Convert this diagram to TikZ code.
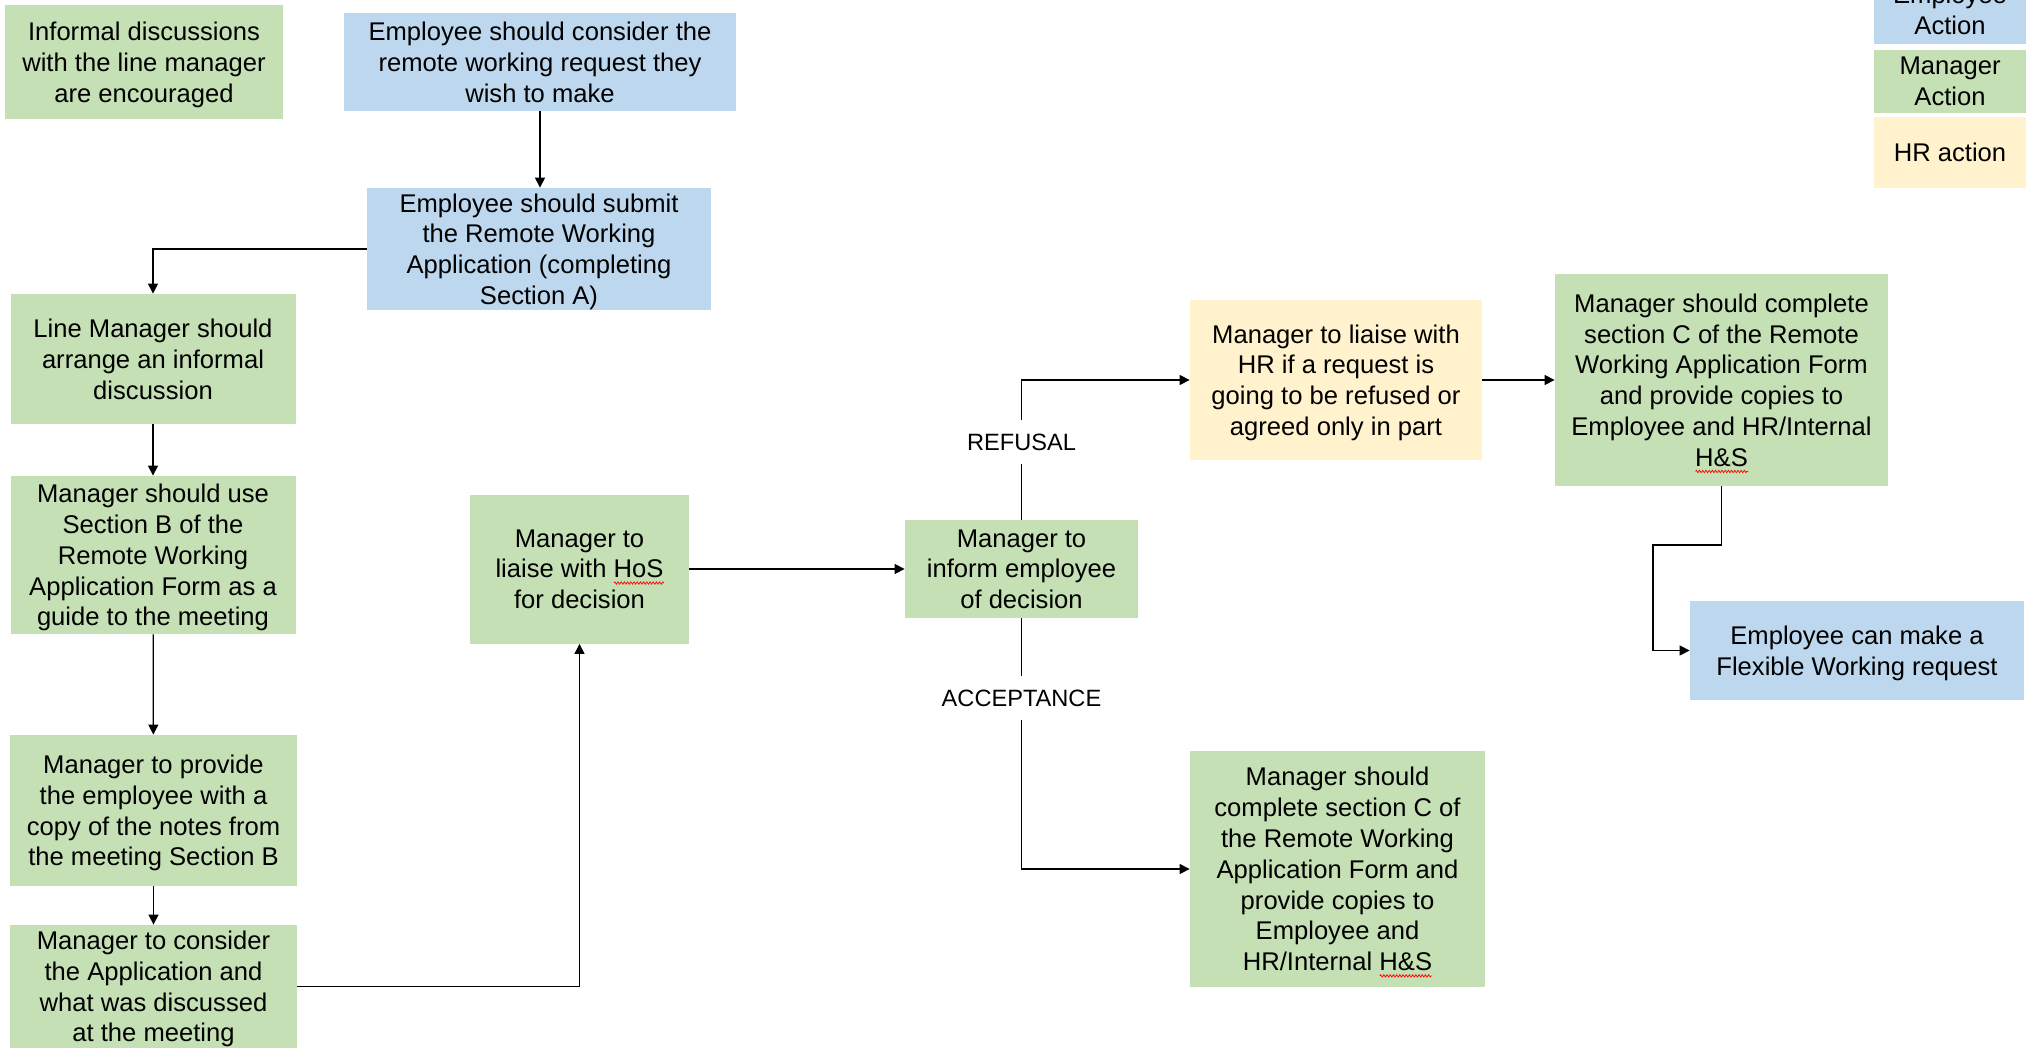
\documentclass[tikz,border=0pt]{standalone}
\usepackage{fontspec}
\setmainfont{Liberation Sans}
\usetikzlibrary{arrows.meta,decorations.pathmorphing}
\definecolor{mgr}{HTML}{C5E0B4}
\definecolor{emp}{HTML}{BDD7EE}
\definecolor{hrc}{HTML}{FFF2CC}
\newsavebox\wavebox
\newcommand\redwave[1]{\sbox\wavebox{#1}\leavevmode\rlap{\tikz[baseline=0pt]\draw[red,line width=0.35pt,decorate,decoration={zigzag,segment length=1.6pt,amplitude=0.6pt}] (0pt,-2.6pt) -- (\the\wd\wavebox,-2.6pt);}\usebox\wavebox}
\tikzset{
  box/.style={inner sep=0pt, align=center, text depth=0pt, font=\fontsize{12.8}{15.4}\selectfont, text=black},
  mbox/.style={box, fill=mgr},
  ebox/.style={box, fill=emp},
  hbox/.style={box, fill=hrc},
  arr/.style={-{Triangle[length=5pt,width=5pt]}, line width=0.6pt, black},
  lab/.style={fill=white, inner xsep=2pt, inner ysep=7pt, font=\fontsize{11.8}{14}\selectfont}
}
\begin{document}
\begin{tikzpicture}[x=0.5pt,y=-0.5pt]
\fill[white] (0,0) rectangle (2028,1048);
\useasboundingbox (0,0) rectangle (2028,1048);

% nodes
\node[mbox, minimum width=139pt, minimum height=57pt] (info) at (144,62)
  {Informal discussions\\with the line manager\\are encouraged};
\node[ebox, minimum width=196pt, minimum height=49pt] (consider) at (540,62)
  {Employee should consider the\\remote working request they\\wish to make};
\node[ebox, minimum width=172pt, minimum height=61pt] (submit) at (539,249)
  {Employee should submit\\the Remote Working\\Application (completing\\Section A)};
\node[mbox, minimum width=142.5pt, minimum height=65pt] (arrange) at (153,359)
  {Line Manager should\\arrange an informal\\discussion};
\node[mbox, minimum width=142.5pt, minimum height=79pt] (useB) at (153,555)
  {Manager should use\\Section B of the\\Remote Working\\Application Form as a\\guide to the meeting};
\node[mbox, minimum width=143.5pt, minimum height=75.5pt] (provide) at (153.5,810.5)
  {Manager to provide\\the employee with a\\copy of the notes from\\the meeting Section B};
\node[mbox, minimum width=143.5pt, minimum height=61.5pt] (consApp) at (153.5,986.5)
  {Manager to consider\\the Application and\\what was discussed\\at the meeting};
\node[mbox, minimum width=109.5pt, minimum height=74.5pt] (hos) at (579.5,569)
  {Manager to\\liaise with \redwave{HoS}\\for decision};
\node[mbox, minimum width=116.5pt, minimum height=49pt] (inform) at (1021.5,569)
  {Manager to\\inform employee\\of decision};
\node[hbox, minimum width=146pt, minimum height=80pt] (hr) at (1336,380)
  {Manager to liaise with\\HR if a request is\\going to be refused or\\agreed only in part};
\node[mbox, minimum width=166.5pt, minimum height=106pt] (compC) at (1721.5,380)
  {Manager should complete\\section C of the Remote\\Working Application Form\\and provide copies to\\Employee and HR/Internal\\\redwave{H\&S}};
\node[ebox, minimum width=167pt, minimum height=49.5pt] (flex) at (1857,650.5)
  {Employee can make a\\Flexible Working request};
\node[mbox, minimum width=147.5pt, minimum height=118pt] (compB) at (1337.5,869)
  {Manager should\\complete section C of\\the Remote Working\\Application Form and\\provide copies to\\Employee and\\HR/Internal \redwave{H\&S}};

% legend
\node[ebox, minimum width=76pt, minimum height=34.5pt] (legE) at (1950,9.5) {Employee\\Action};
\node[mbox, minimum width=76pt, minimum height=31.5pt] (legM) at (1950,81.5) {Manager\\Action};
\node[hbox, minimum width=76pt, minimum height=35.5pt] (legH) at (1950,152.5) {HR action};

% connectors
\coordinate (k2) at (1653,545);
\draw[arr] (consider.south) -- (consider.south |- submit.north);
\draw[arr] (submit.west) -| (arrange.north);
\draw[arr] (arrange) -- (useB);
\draw[arr] (useB) -- (provide);
\draw[arr] (provide) -- (consApp);
\draw[arr] (consApp.east) -| (hos.south);
\draw[arr] (hos.east) -- (inform.west);
\draw[arr] (inform.north) |- (hr.west);
\draw[arr] (hr.east) -- (compC.west);
\draw[arr] (compC.south) |- (k2) |- (flex.west);
\draw[arr] (inform.south) |- (compB.west);

% labels
\node[lab] (refusal) at (1021.5,442) {REFUSAL};
\node[lab] (accept) at (1021.5,698) {ACCEPTANCE};
\end{tikzpicture}
\end{document}
